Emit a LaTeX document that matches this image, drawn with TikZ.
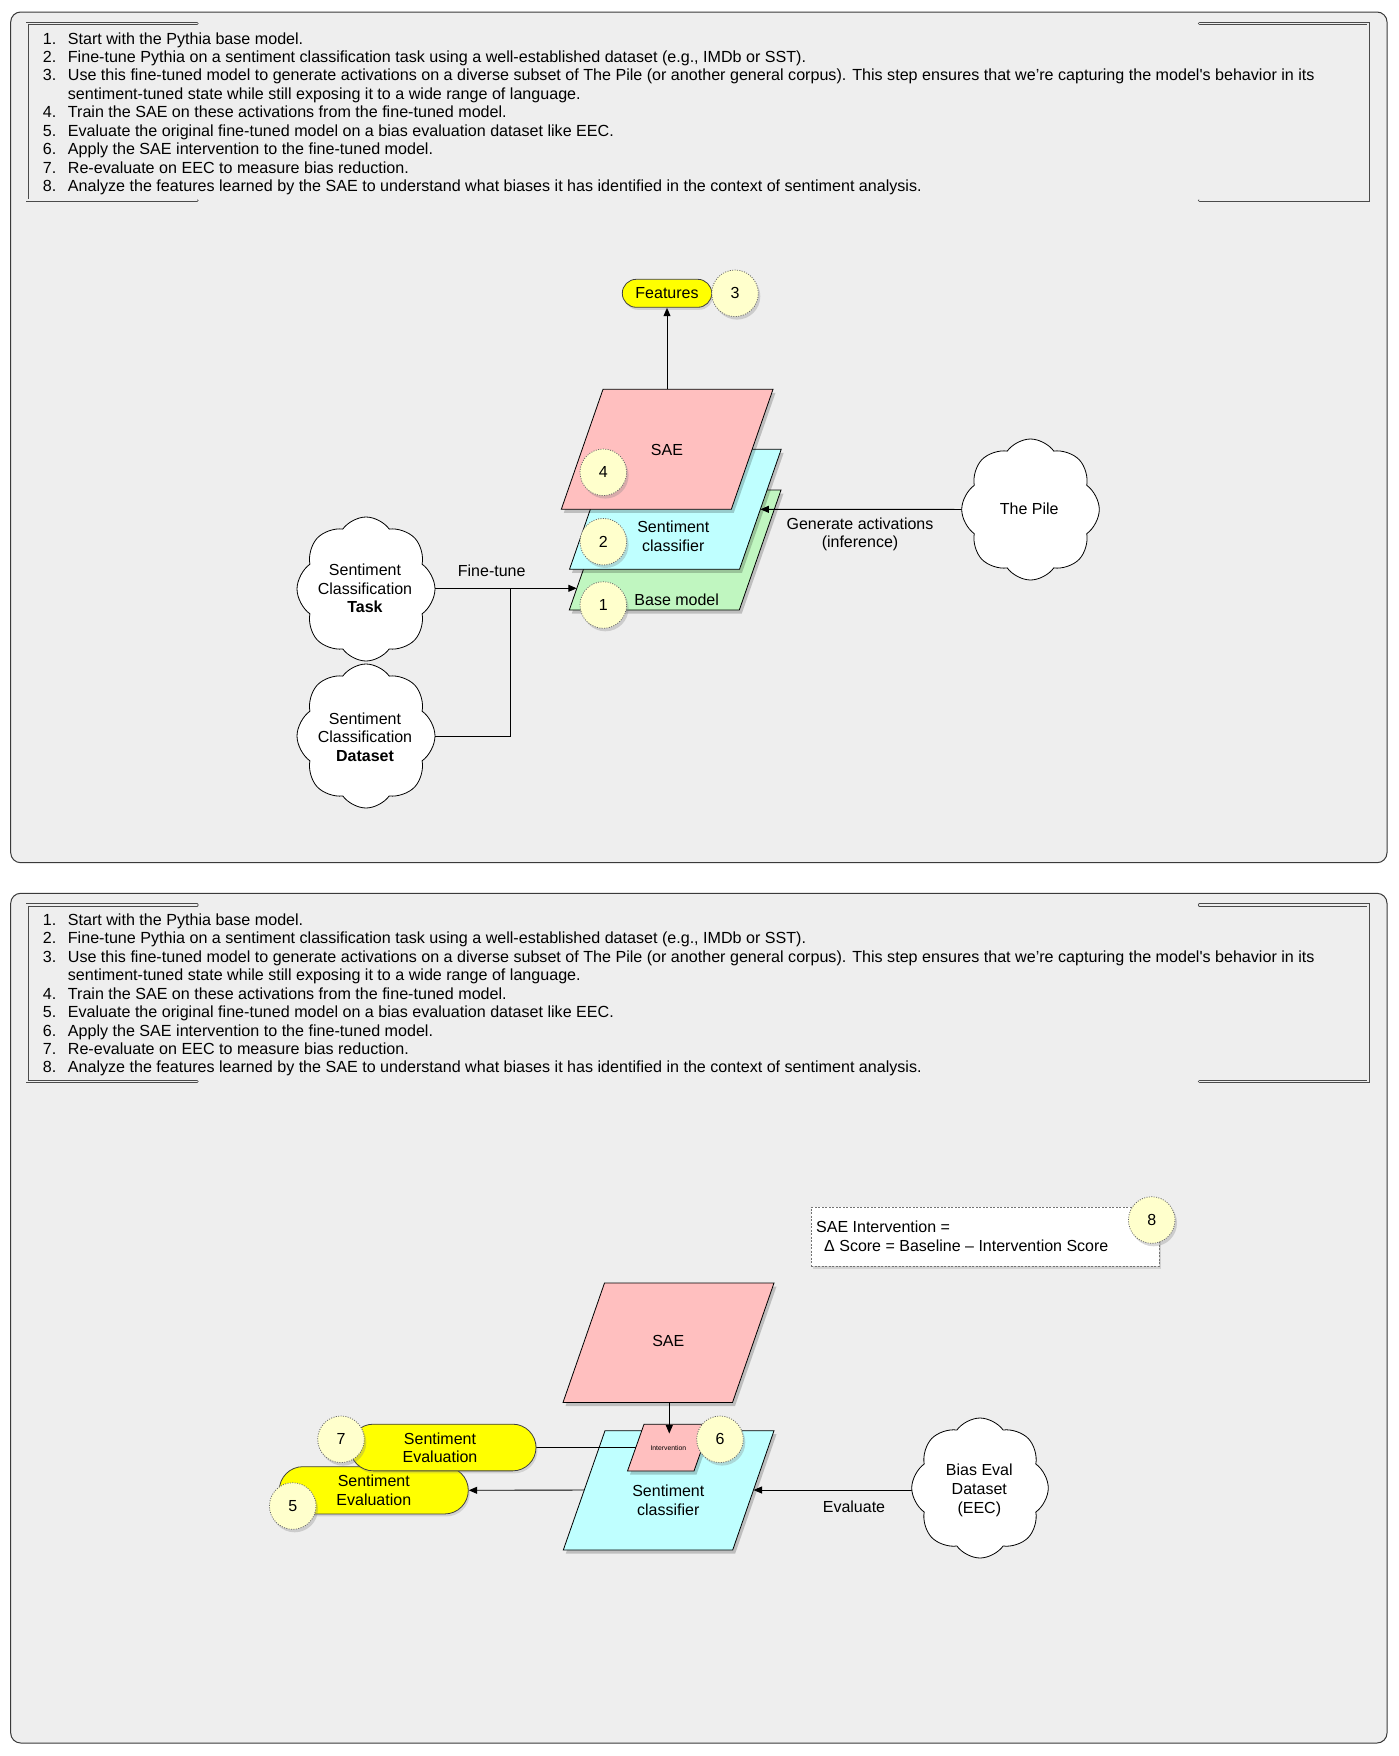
\documentclass[tikz,border=0pt]{standalone}
\usepackage{fontspec}
\setmainfont{Liberation Sans}
\usetikzlibrary{shapes.symbols,shapes.misc,arrows.meta,shadows}

\definecolor{panelbg}{HTML}{EEEEEE}
\definecolor{panelline}{HTML}{3A3A3A}
\definecolor{saepink}{HTML}{FFBFBF}
\definecolor{clfcyan}{HTML}{BFFFFF}
\definecolor{basegreen}{HTML}{C0F6C0}
\definecolor{capyellow}{HTML}{FFFF00}
\definecolor{bubblefill}{HTML}{FFFFCC}
\definecolor{framegray}{HTML}{4A4A4A}

\pgfdeclarelayer{panels}
\pgfdeclarelayer{shapes}
\pgfdeclarelayer{lines}
\pgfsetlayers{panels,shapes,lines,main}

\tikzset{
  panel/.style={draw=panelline, line width=1pt, fill=panelbg, rounded corners=10pt},
  frameline/.style={draw=framegray, line width=0.8pt, double=panelbg, double distance=1.5pt, line cap=round},
  steptext/.style={font=\fontsize{16.1}{18.46}\selectfont, inner sep=0pt, anchor=base west},
  lbl/.style={font=\fontsize{16}{18.6}\selectfont, align=center, inner sep=0pt},
  pgram/.style={draw=black, line width=0.8pt, line join=miter},
  pshadow/.style={fill=black, opacity=0.2, xshift=2.5pt, yshift=-3.5pt},
  bubble/.style={circle, minimum size=46.6pt, inner sep=0pt, fill=bubblefill,
    draw=black!60, line width=0.8pt, dash pattern=on 1pt off 1.4pt,
    font=\fontsize{16}{18}\selectfont,
    drop shadow={opacity=0.3, shadow xshift=2pt, shadow yshift=-3pt}},
  capsule/.style={rounded rectangle, fill=capyellow, draw=black!75, line width=0.8pt,
    inner sep=0pt, align=center, font=\fontsize{16}{18.6}\selectfont,
    drop shadow={opacity=0.25, shadow xshift=1.5pt, shadow yshift=-2.5pt}},
  cloudshape/.style={cloud, cloud puffs=8, cloud puff arc=110, cloud ignores aspect,
    draw=black, line width=0.8pt, fill=white, inner sep=0pt},
  conn/.style={draw=black, line width=0.9pt},
  arr/.style={conn, -{Triangle[length=8.5pt,width=7pt]}},
  formulabox/.style={rectangle, fill=white, draw=black!55, line width=0.7pt,
    dash pattern=on 2pt off 1.5pt, inner sep=0pt,
    drop shadow={opacity=0.25, shadow xshift=2pt, shadow yshift=-3pt}},
}

\newcommand{\stepslist}{%
  \draw[frameline] (197,23.7) -- (27.2,23.7) -- (27.2,200.2) -- (197,200.2);
  \draw[frameline] (1199.5,23.7) -- (1368.2,23.7) -- (1368.2,200.2) -- (1199.5,200.2);
  \node[steptext] (s1) at (42.7,44) {\makebox[25pt][l]{1.}Start with the Pythia base model.};
  \node[steptext] (s2) at (42.7,62.46) {\makebox[25pt][l]{2.}Fine-tune Pythia on a sentiment classification task using a well-established dataset (e.g., IMDb or SST).};
  \node[steptext] (s3) at (42.7,80.92) {\makebox[25pt][l]{3.}Use this fine-tuned model to generate activations on a diverse subset of The Pile (or another general corpus). This step ensures that we’re capturing the model\textquotesingle s behavior in its};
  \node[steptext] (s3b) at (67.7,99.38) {sentiment-tuned state while still exposing it to a wide range of language.};
  \node[steptext] (s4) at (42.7,117.84) {\makebox[25pt][l]{4.}Train the SAE on these activations from the fine-tuned model.};
  \node[steptext] (s5) at (42.7,136.3) {\makebox[25pt][l]{5.}Evaluate the original fine-tuned model on a bias evaluation dataset like EEC.};
  \node[steptext] (s6) at (42.7,154.76) {\makebox[25pt][l]{6.}Apply the SAE intervention to the fine-tuned model.};
  \node[steptext] (s7) at (42.7,173.22) {\makebox[25pt][l]{7.}Re-evaluate on EEC to measure bias reduction.};
  \node[steptext] (s8) at (42.7,191.68) {\makebox[25pt][l]{8.}Analyze the features learned by the SAE to understand what biases it has identified in the context of sentiment analysis.};
}

\begin{document}
\begin{tikzpicture}[x=1pt,y=-1pt]
\useasboundingbox (0,0) rectangle (1398,1756);

% ---------- panels ----------
\begin{pgfonlayer}{panels}
  \fill[white] (0,0) rectangle (1398,1756);
  \path[panel] (10.7,12) rectangle (1387,862.7);
  \path[panel] (10.7,893.3) rectangle (1387,1743);
\end{pgfonlayer}

\stepslist
\begin{scope}[yshift=-881.3pt, name prefix=p2-]
  \stepslist
\end{scope}

% ---------- parallelograms ----------
\begin{pgfonlayer}{shapes}
  % panel 1: base model
  \fill[pshadow] (569.3,610) -- (739.3,610) -- (781,490) -- (611,490) -- cycle;
  \path[pgram, fill=basegreen] (569.3,610) -- (739.3,610) -- (781,490) -- (611,490) -- cycle;
  % panel 1: sentiment classifier
  \fill[pshadow] (569.5,569.3) -- (739.5,569.3) -- (781.2,449.3) -- (611.2,449.3) -- cycle;
  \path[pgram, fill=clfcyan] (569.5,569.3) -- (739.5,569.3) -- (781.2,449.3) -- (611.2,449.3) -- cycle;
  % panel 1: SAE
  \fill[pshadow] (561.3,509.3) -- (731.3,509.3) -- (773,389.3) -- (603,389.3) -- cycle;
  \path[pgram, fill=saepink] (561.3,509.3) -- (731.3,509.3) -- (773,389.3) -- (603,389.3) -- cycle;
  % panel 2: SAE
  \fill[pshadow] (563,1402.5) -- (732.5,1402.5) -- (774,1283) -- (604.5,1283) -- cycle;
  \path[pgram, fill=saepink] (563,1402.5) -- (732.5,1402.5) -- (774,1283) -- (604.5,1283) -- cycle;
  % panel 2: sentiment classifier
  \fill[pshadow] (563.3,1550) -- (732.7,1550) -- (774,1430.7) -- (605,1430.7) -- cycle;
  \path[pgram, fill=clfcyan] (563.3,1550) -- (732.7,1550) -- (774,1430.7) -- (605,1430.7) -- cycle;
  % panel 2: intervention
  \fill[pshadow] (627.5,1471) -- (694,1471) -- (710.5,1424.3) -- (644,1424.3) -- cycle;
  \path[pgram, fill=saepink] (627.5,1471) -- (694,1471) -- (710.5,1424.3) -- (644,1424.3) -- cycle;
\end{pgfonlayer}

% connection points on the parallelograms
\coordinate (sae1top) at (667,389.3);
\coordinate (clf1east) at (760.4,509.3);
\coordinate (base1west) at (576.8,588.3);
\coordinate (ftjoin) at (510.7,588.3);
\coordinate (sae2bot) at (669.3,1402.5);
\coordinate (intervin) at (669.3,1433.5);
\coordinate (intervwest) at (635.8,1447.5);
\coordinate (clf2west) at (584.3,1490);
\coordinate (clf2east) at (753.5,1490);

% ---------- shape labels ----------
\node[lbl] (sae1) at (667,450) {SAE};
\node[lbl] (clf1) at (673.3,536) {Sentiment\\classifier};
\node[lbl] (base1) at (676.7,600) {Base model};
\node[lbl] (sae2) at (668.3,1341) {SAE};
\node[lbl] (clf2) at (668.3,1500) {Sentiment\\classifier};
\node[lbl, font=\fontsize{6.8}{8}\selectfont] (interv) at (668.3,1447.7) {Intervention};

% ---------- clouds ----------
\node[cloudshape, minimum width=138pt, minimum height=144pt] (task) at (366,589) {};
\node[lbl] (tasktxt) at (365,588.3) {Sentiment\\Classification\\\textbf{Task}};
\node[cloudshape, minimum width=138pt, minimum height=144pt] (dataset) at (366,736) {};
\node[lbl] (datasettxt) at (365,737) {Sentiment\\Classification\\\textbf{Dataset}};
\node[cloudshape, minimum width=137.6pt, minimum height=141pt] (pile) at (1030.5,509.5) {};
\node[lbl] (piletxt) at (1029.3,508.3) {The Pile};
\node[cloudshape, minimum width=136.6pt, minimum height=140pt] (bias) at (980,1488) {};
\node[lbl] (biastxt) at (979.3,1490.3) {Bias Eval\\Dataset\\(EEC)};

% ---------- capsules ----------
\node[capsule, minimum width=89.4pt, minimum height=28pt] (features) at (667,293.3) {Features};
\node[capsule, minimum width=189pt, minimum height=47.3pt] (se5) at (373.8,1490.3) {Sentiment\\Evaluation};
\node[capsule, minimum width=186pt, minimum height=46.7pt] (se7) at (443,1447.5) {};
\node[lbl] (se7txt) at (440,1447.8) {Sentiment\\Evaluation};

% ---------- formula box ----------
\node[formulabox, minimum width=348pt, minimum height=58.7pt] (formula) at (985,1236.65) {};
\node[lbl, anchor=base west] (formula1) at (816,1232.4) {SAE Intervention =};
\node[lbl, anchor=base west] (formula2) at (824,1251.4) {Δ Score = Baseline – Intervention Score};

% ---------- connectors ----------
\begin{pgfonlayer}{lines}
  \draw[arr] (sae1top) -- (features.south);
  \draw[arr] (pile.center) -- (clf1east);
  \draw[arr] (task.center |- base1west) -- (base1west);
  \draw[conn] (dataset.center) -| (ftjoin);
  \draw[arr] (sae2bot) -- (intervin);
  \draw[conn] (se7.center) -- (intervwest);
  \draw[arr] (clf2west) -- (se5.east);
  \draw[arr] (bias.center |- clf2east) -- (clf2east);
\end{pgfonlayer}

% ---------- connector labels ----------
\node[lbl] (ftlbl) at (491.7,571) {Fine-tune};
\node[lbl] (genlbl) at (860,534.5) {Generate activations\\(inference)};
\node[lbl] (evallbl) at (854,1506.7) {Evaluate};

% ---------- numbered bubbles ----------
\node[bubble] (b3) at (735,293.3) {3};
\node[bubble] (b4) at (603.3,472.3) {4};
\node[bubble] (b2) at (603.3,541.7) {2};
\node[bubble] (b1) at (603.3,605) {1};
\node[bubble] (b6) at (720,1439.3) {6};
\node[bubble] (b7) at (341,1439.3) {7};
\node[bubble] (b5) at (292.7,1506) {5};
\node[bubble] (b8) at (1151.7,1220) {8};
\end{tikzpicture}
\end{document}
